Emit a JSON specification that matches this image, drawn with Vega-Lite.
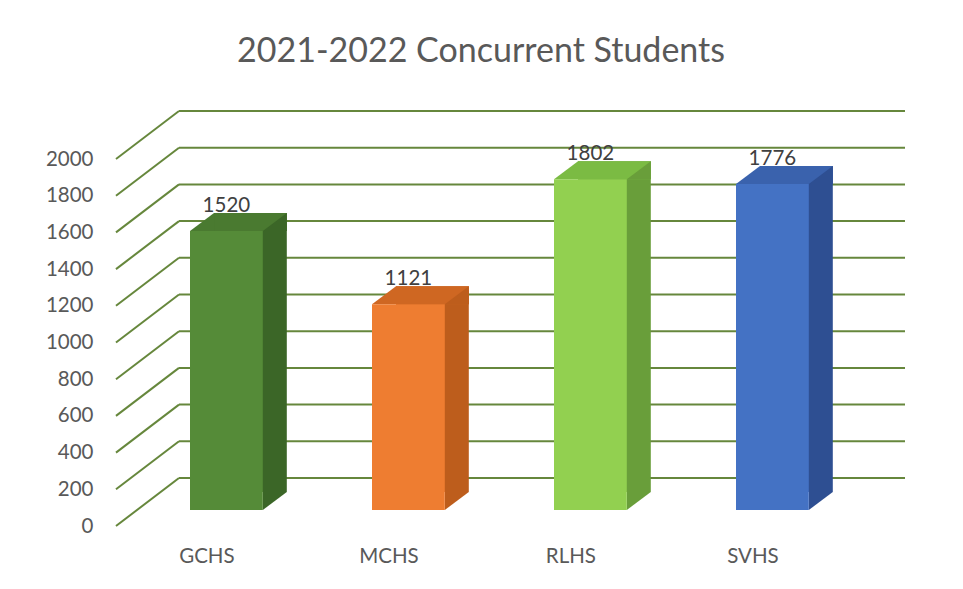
{
  "$schema": "https://vega.github.io/schema/vega-lite/v6.json",
  "width": 789,
  "height": 367,
  "autosize": {"type": "none"},
  "padding": {"left": 116, "top": 159, "right": 58, "bottom": 63},
  "background": "white",
  "title": {"text": "2021-2022 Concurrent Students", "font": "Lato", "fontSize": 34, "fontWeight": "normal", "color": "#595959", "anchor": "middle", "frame": "group", "dx": -29.5, "baseline": "alphabetic", "offset": 14},
  "config": {
    "view": {"stroke": null},
    "axisY": {"labelFont": "Lato", "labelFontSize": 20.5, "labelColor": "#595959", "labelPadding": 23, "ticks": false, "tickSize": 0, "domain": false, "grid": false},
    "axisX": {"labelFont": "Lato", "labelFontSize": 20.5, "labelColor": "#595959", "labelPadding": 20, "ticks": false, "tickSize": 0, "domain": false, "grid": false, "labelAngle": 0}
  },
  "datasets": {
    "schools": [
      {"school": "GCHS", "value": 1520},
      {"school": "MCHS", "value": 1121},
      {"school": "RLHS", "value": 1802},
      {"school": "SVHS", "value": 1776}
    ],
    "grid": [
      {"value": 0}, {"value": 200}, {"value": 400}, {"value": 600}, {"value": 800}, {"value": 1000},
      {"value": 1200}, {"value": 1400}, {"value": 1600}, {"value": 1800}, {"value": 2000}
    ]
  },
  "layer": [
    {
      "data": {"name": "grid"},
      "mark": {"type": "rule", "color": "#66873c", "strokeWidth": 2, "x2Offset": 63, "y2Offset": -48},
      "encoding": {
        "x": {"datum": 0, "type": "quantitative", "scale": {"domain": [0, 1]}, "axis": null},
        "x2": {"datum": 0},
        "y": {"field": "value", "type": "quantitative", "scale": {"domain": [0, 2000], "nice": false}, "axis": {"title": null, "format": "d", "values": [0, 200, 400, 600, 800, 1000, 1200, 1400, 1600, 1800, 2000]}},
        "y2": {"field": "value"}
      }
    },
    {
      "data": {"name": "grid"},
      "mark": {"type": "rule", "color": "#66873c", "strokeWidth": 2, "xOffset": 63, "yOffset": -48, "y2Offset": -48},
      "encoding": {
        "x": {"datum": 0, "type": "quantitative", "scale": {"domain": [0, 1]}, "axis": null},
        "x2": {"datum": 1},
        "y": {"field": "value", "type": "quantitative", "scale": {"domain": [0, 2000], "nice": false}, "axis": {"title": null, "format": "d", "values": [0, 200, 400, 600, 800, 1000, 1200, 1400, 1600, 1800, 2000]}},
        "y2": {"field": "value"}
      }
    },
    {
      "data": {"name": "schools"},
      "mark": {"type": "bar", "xOffset": 24, "yOffset": -34, "y2Offset": -34},
      "encoding": {
        "x": {"field": "school", "type": "nominal", "scale": {"type": "band", "paddingInner": 0.6, "paddingOuter": 0.4676, "align": 0.4348}, "axis": null},
        "y": {"field": "value", "type": "quantitative", "scale": {"domain": [0, 2000], "nice": false}, "axis": {"title": null, "format": "d", "values": [0, 200, 400, 600, 800, 1000, 1200, 1400, 1600, 1800, 2000]}},
        "color": {"field": "school", "type": "nominal", "scale": {"domain": ["GCHS", "MCHS", "RLHS", "SVHS"], "range": ["#3b6627", "#bd5d1c", "#699e3a", "#2e4f92"]}, "legend": null}
      }
    },
    {
      "data": {"name": "schools"},
      "mark": {"type": "bar", "xOffset": 24, "yOffset": -34, "y2Offset": -16},
      "encoding": {
        "x": {"field": "school", "type": "nominal", "scale": {"type": "band", "paddingInner": 0.6, "paddingOuter": 0.4676, "align": 0.4348}, "axis": null},
        "y": {"field": "value", "type": "quantitative", "scale": {"domain": [0, 2000], "nice": false}, "axis": {"title": null, "format": "d", "values": [0, 200, 400, 600, 800, 1000, 1200, 1400, 1600, 1800, 2000]}},
        "y2": {"field": "value"},
        "color": {"field": "school", "type": "nominal", "scale": {"domain": ["GCHS", "MCHS", "RLHS", "SVHS"], "range": ["#4a7a30", "#cf6722", "#7bbb43", "#3a62ad"]}, "legend": null}
      }
    },
    {
      "data": {"name": "schools"},
      "mark": {"type": "point", "shape": "M-1,0.75L1,-0.75L1,0.75Z", "size": 576, "filled": true, "opacity": 1, "strokeWidth": 0, "xOffset": 12, "yOffset": -25},
      "encoding": {
        "x": {"field": "school", "type": "nominal", "bandPosition": 1, "scale": {"type": "band", "paddingInner": 0.6, "paddingOuter": 0.4676, "align": 0.4348}, "axis": null},
        "y": {"field": "value", "type": "quantitative", "scale": {"domain": [0, 2000], "nice": false}, "axis": {"title": null, "format": "d", "values": [0, 200, 400, 600, 800, 1000, 1200, 1400, 1600, 1800, 2000]}},
        "color": {"field": "school", "type": "nominal", "scale": {"domain": ["GCHS", "MCHS", "RLHS", "SVHS"], "range": ["#3b6627", "#bd5d1c", "#699e3a", "#2e4f92"]}, "legend": null}
      }
    },
    {
      "data": {"name": "schools"},
      "mark": {"type": "point", "shape": "M-1,-0.75L1,-0.75L-1,0.75Z", "size": 576, "filled": true, "opacity": 1, "strokeWidth": 0, "xOffset": 12, "yOffset": -25},
      "encoding": {
        "x": {"field": "school", "type": "nominal", "bandPosition": 1, "scale": {"type": "band", "paddingInner": 0.6, "paddingOuter": 0.4676, "align": 0.4348}, "axis": null},
        "y": {"datum": 0, "type": "quantitative", "scale": {"domain": [0, 2000], "nice": false}, "axis": {"title": null, "format": "d", "values": [0, 200, 400, 600, 800, 1000, 1200, 1400, 1600, 1800, 2000]}},
        "color": {"field": "school", "type": "nominal", "scale": {"domain": ["GCHS", "MCHS", "RLHS", "SVHS"], "range": ["#3b6627", "#bd5d1c", "#699e3a", "#2e4f92"]}, "legend": null}
      }
    },
    {
      "data": {"name": "schools"},
      "mark": {"type": "point", "shape": "M-1,0.75L1,-0.75L1,0.75Z", "size": 576, "filled": true, "opacity": 1, "strokeWidth": 0, "xOffset": 12, "yOffset": -25},
      "encoding": {
        "x": {"field": "school", "type": "nominal", "bandPosition": 0, "scale": {"type": "band", "paddingInner": 0.6, "paddingOuter": 0.4676, "align": 0.4348}, "axis": null},
        "y": {"field": "value", "type": "quantitative", "scale": {"domain": [0, 2000], "nice": false}, "axis": {"title": null, "format": "d", "values": [0, 200, 400, 600, 800, 1000, 1200, 1400, 1600, 1800, 2000]}},
        "color": {"field": "school", "type": "nominal", "scale": {"domain": ["GCHS", "MCHS", "RLHS", "SVHS"], "range": ["#4a7a30", "#cf6722", "#7bbb43", "#3a62ad"]}, "legend": null}
      }
    },
    {
      "data": {"name": "schools"},
      "mark": {"type": "bar", "yOffset": -16, "y2Offset": -16},
      "encoding": {
        "x": {"field": "school", "type": "nominal", "scale": {"type": "band", "paddingInner": 0.6, "paddingOuter": 0.4676, "align": 0.4348},
          "axis": {"title": null, "orient": "bottom", "labelOffset": -19.5}},
        "y": {"field": "value", "type": "quantitative", "scale": {"domain": [0, 2000], "nice": false}, "axis": {"title": null, "format": "d", "values": [0, 200, 400, 600, 800, 1000, 1200, 1400, 1600, 1800, 2000]}},
        "color": {"field": "school", "type": "nominal", "scale": {"domain": ["GCHS", "MCHS", "RLHS", "SVHS"], "range": ["#558b38", "#ee7d31", "#92d050", "#4472c4"]}, "legend": null}
      }
    },
    {
      "data": {"name": "schools"},
      "mark": {"type": "text", "font": "Lato", "fontSize": 20.5, "color": "#404040", "baseline": "alphabetic", "yOffset": -35},
      "encoding": {
        "x": {"field": "school", "type": "nominal", "scale": {"type": "band", "paddingInner": 0.6, "paddingOuter": 0.4676, "align": 0.4348}, "axis": null},
        "y": {"field": "value", "type": "quantitative", "scale": {"domain": [0, 2000], "nice": false}, "axis": {"title": null, "format": "d", "values": [0, 200, 400, 600, 800, 1000, 1200, 1400, 1600, 1800, 2000]}},
        "text": {"field": "value", "type": "quantitative", "format": "d"}
      }
    }
  ],
  "resolve": {"scale": {"x": "independent", "color": "independent"}, "axis": {"x": "independent"}}
}
